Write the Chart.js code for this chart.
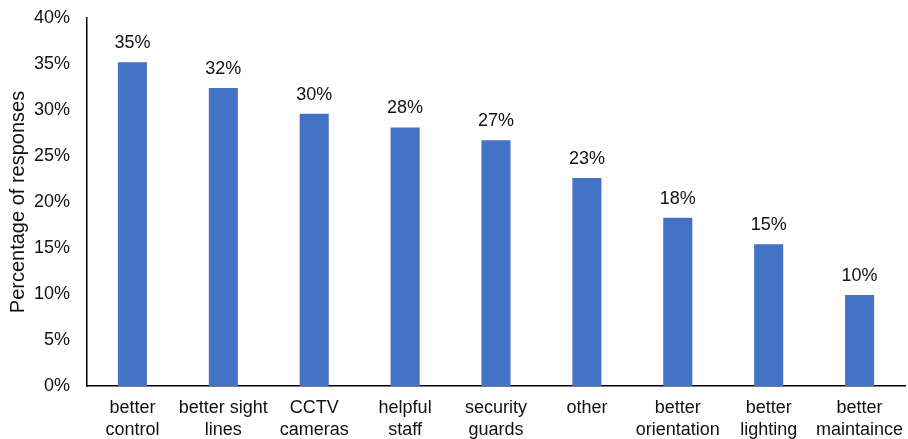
<!DOCTYPE html>
<html>
<head>
<meta charset="utf-8">
<script src="https://cdn.jsdelivr.net/npm/chart.js@4"></script>
<style>
  html, body { margin: 0; padding: 0; background: #fff; }
  #wrap { width: 908px; height: 439px; }
</style>
</head>
<body>
<div id="wrap"><canvas id="chart"></canvas></div>
<script>
// Categories (multi-line labels) and values
var categories = [
    ['better', 'control'],
    ['better sight', 'lines'],
    ['CCTV', 'cameras'],
    ['helpful', 'staff'],
    ['security', 'guards'],
    ['other'],
    ['better', 'orientation'],
    ['better', 'lighting'],
    ['better', 'maintaince']
];
var responses = [35.2, 32.4, 29.6, 28.1, 26.7, 22.6, 18.3, 15.4, 9.9];
var valueLabels = ['35%', '32%', '30%', '28%', '27%', '23%', '18%', '15%', '10%'];

var FONT = '"Liberation Sans", Arial, sans-serif';
var TEXT = '#111';

// Draw the value labels above each bar
var barLabels = {
    id: 'barLabels',
    afterDatasetsDraw: function(chart) {
        var ctx = chart.ctx;
        var meta = chart.getDatasetMeta(0);
        ctx.save();
        ctx.font = '18px ' + FONT;
        ctx.fillStyle = TEXT;
        ctx.textAlign = 'center';
        ctx.textBaseline = 'middle';
        meta.data.forEach(function(bar, i) {
            ctx.fillText(valueLabels[i], bar.x, bar.y - 19);
        });
        ctx.restore();
    }
};

var chart = new Chart(document.getElementById('chart'), {
    type: 'bar',
    data: {
        labels: categories,
        datasets: [{
            data: responses,
            backgroundColor: '#4472C4',
            borderWidth: 0,
            categoryPercentage: 1,
            barPercentage: 0.32
        }]
    },
    options: {
        responsive: true,
        maintainAspectRatio: false,
        animation: false,
        layout: { padding: { top: 18, right: 3, left: 0, bottom: 0 } },
        plugins: {
            legend: { display: false },
            tooltip: { enabled: false }
        },
        scales: {
            x: {
                grid: { display: false, drawTicks: false },
                border: { display: true, color: '#000', width: 1.5 },
                ticks: {
                    color: TEXT,
                    font: { family: FONT, size: 18, lineHeight: 1.17 },
                    padding: 12,
                    maxRotation: 0,
                    autoSkip: false
                },
                afterFit: function(scale) {
                    scale.height = 53;
                    scale.paddingLeft = 0;
                    scale.paddingRight = 0;
                }
            },
            y: {
                min: 0,
                max: 40,
                grid: { display: false, drawTicks: false },
                border: { display: true, color: '#000', width: 1.5 },
                ticks: {
                    stepSize: 5,
                    color: TEXT,
                    font: { family: FONT, size: 18 },
                    padding: 17,
                    callback: function(v) { return v + '%'; }
                },
                title: {
                    display: true,
                    text: 'Percentage of responses',
                    color: TEXT,
                    font: { family: FONT, size: 20 },
                    padding: { top: 6, bottom: 0 }
                },
                afterFit: function(scale) {
                    scale.width = 87;
                    scale.paddingTop = 0;
                    scale.paddingBottom = 0;
                }
            }
        }
    },
    plugins: [barLabels]
});
</script>
</body>
</html>
